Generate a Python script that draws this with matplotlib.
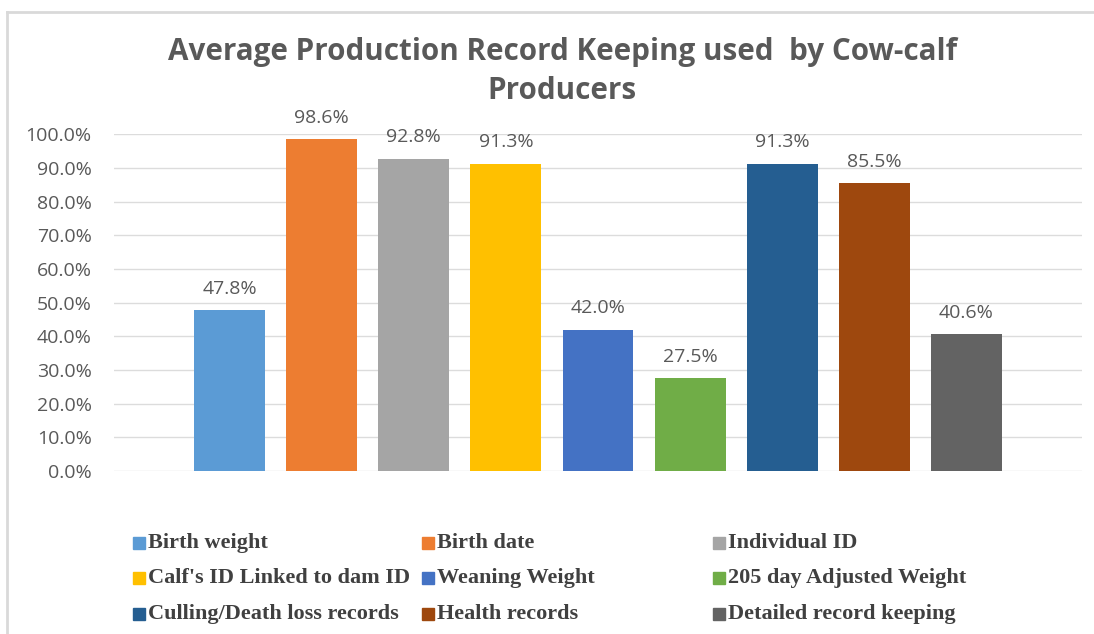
import numpy as np
import matplotlib.pyplot as plt
from matplotlib.lines import Line2D

categories = ['Birth weight', 'Birth date', 'Individual ID',
              "Calf's ID Linked to dam ID", 'Weaning Weight',
              '205 day Adjusted Weight', 'Culling/Death loss records',
              'Health records', 'Detailed record keeping']
values = [47.8, 98.6, 92.8, 91.3, 42.0, 27.5, 91.3, 85.5, 40.6]
colors = ['#5B9BD5', '#ED7D31', '#A5A5A5', '#FFC000', '#4472C4',
          '#70AD47', '#255E91', '#9E480E', '#636363']
yticks = np.arange(0, 101, 10)

text_gray = '#595959'

fig = plt.figure(figsize=(10.94, 6.34), dpi=100)
ax = fig.add_axes([0.1042, 0.2571, 0.8848, 0.5311])

x = np.arange(len(values))
ax.bar(x, values, width=0.77, color=colors, zorder=3)
for xi, v in zip(x, values):
    ax.text(xi, v + 6.3, f'{v:.1f}%', ha='center', va='center',
            fontsize=14, color=text_gray, family='Open Sans')

ax.set_xlim(-1.254, len(values) - 1 + 1.254)
ax.set_ylim(0, 100)
ax.set_yticks(yticks)
ax.set_yticklabels([f'{t:.1f}%' for t in yticks], family='Open Sans',
                   fontsize=14, color=text_gray)
ax.set_xticks([])
ax.tick_params(axis='y', length=0, pad=16)
ax.grid(axis='y', color='#DCDCDC', linewidth=1.0, zorder=0)
for s in ax.spines.values():
    s.set_visible(False)

fig.text(0.514, 0.918, 'Average Production Record Keeping used  by Cow-calf',
         ha='center', va='center', fontsize=21.3, fontweight='bold',
         color=text_gray, family='Open Sans')
fig.text(0.514, 0.857, 'Producers', ha='center', va='center', fontsize=21.3,
         fontweight='bold', color=text_gray, family='Open Sans')

# legend: 3 columns, filled row by row
col_x = [133 / 1094, 422 / 1094, 713 / 1094]
row_y = [1 - 543 / 634, 1 - 578 / 634, 1 - 614 / 634]
for i, (lab, c) in enumerate(zip(categories, colors)):
    r, cidx = divmod(i, 3)
    fig.patches.append(plt.Rectangle((col_x[cidx], row_y[r] - 6 / 634), 12 / 1094, 12 / 634,
                                     transform=fig.transFigure, color=c))
    fig.text(col_x[cidx] + 15 / 1094, row_y[r], lab, ha='left', va='center',
             fontsize=16, fontweight='bold', color='#404040',
             family='Liberation Serif')

# chart border
fig.add_artist(Line2D([7 / 1094, 1.0], [1 - 12 / 634, 1 - 12 / 634],
                      transform=fig.transFigure, color='#D9D9D9', linewidth=2))
fig.add_artist(Line2D([7 / 1094, 7 / 1094], [0, 1 - 12 / 634],
                      transform=fig.transFigure, color='#D9D9D9', linewidth=2))

fig.savefig('out.png', dpi=100)
